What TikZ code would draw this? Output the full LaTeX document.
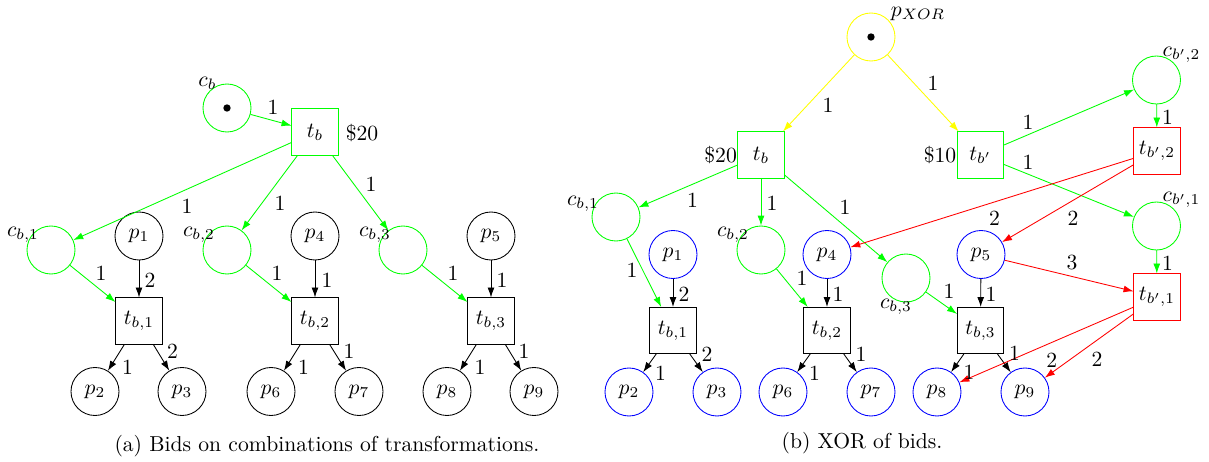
\documentclass[tikz,border=0pt]{standalone}
\usetikzlibrary{arrows.meta}
\definecolor{pg}{RGB}{0,255,0}
\definecolor{py}{RGB}{255,255,0}
\definecolor{pr}{RGB}{255,0,0}
\definecolor{pb}{RGB}{0,0,255}
\begin{document}
\begin{tikzpicture}[x=0.4625pt,y=-0.4625pt,
  place/.style={circle,draw,minimum size=22.2pt,inner sep=0pt},
  trans/.style={rectangle,draw,line width=0.45pt,minimum size=21.3pt,inner sep=0pt},
  token/.style={circle,fill=black,minimum size=3.4pt,inner sep=0pt},
  arc/.style={-{Latex[length=4.6pt,width=3.2pt]}},
  lbl/.style={inner sep=0pt}]
\useasboundingbox (0,0) rectangle (1209,462);
% ===== (a) =====
\node[place,draw=pg] (cb) at (227,108) {};
\node[token] (cbtok) at (cb) {};
\node[lbl] (cbl) at (207.5,83) {$c_b$};
\node[trans,draw=pg] (tb) at (315,132) {$t_b$};
\node[lbl] (tbprice) at (362,133) {\$20};
\node[place,draw=pg] (cb1) at (51,250) {};
\node[place,draw=pg] (cb2) at (227,250) {};
\node[place,draw=pg] (cb3) at (403,250) {};
\node[lbl] (cb1l) at (23,235) {$c_{b,1}$};
\node[lbl] (cb2l) at (199,235) {$c_{b,2}$};
\node[lbl] (cb3l) at (375,235) {$c_{b,3}$};
\node[place] (p1) at (139,236) {$p_1$};
\node[place] (p4) at (315,236) {$p_4$};
\node[place] (p5) at (491,236) {$p_5$};
\node[trans] (tb1) at (139,321) {$t_{b,1}$};
\node[trans] (tb2) at (315,321) {$t_{b,2}$};
\node[trans] (tb3) at (491,321) {$t_{b,3}$};
\node[place] (p2) at (95,391.5) {$p_2$};
\node[place] (p3) at (182,391.5) {$p_3$};
\node[place] (p6) at (271,391.5) {$p_6$};
\node[place] (p7) at (359,391.5) {$p_7$};
\node[place] (p8) at (447,391.5) {$p_8$};
\node[place] (p9) at (534,391.5) {$p_9$};
\foreach \a/\b in {cb/tb,tb/cb1,tb/cb2,tb/cb3,cb1/tb1,cb2/tb2,cb3/tb3}
  \draw[arc,pg] (\a) -- (\b);
\foreach \a/\b in {p1/tb1,p4/tb2,p5/tb3,tb1/p2,tb1/p3,tb2/p6,tb2/p7,tb3/p8,tb3/p9}
  \draw[arc] (\a) -- (\b);
\foreach \n/\x/\y/\t in {la1/273/107/1,la2/187/206/1,la3/280/203/1,la4/371/184/1,
  la5/101/273/1,la6/150/280/2,la7/127.5/367/1,la8/172.5/351/2,
  la9/277/273/1,la10/327/280/1,la11/303.6/367/1,la12/349/351/1,
  la13/453/273/1,la14/502/280/1,la15/480/367/1,la16/524/351/1}
  \node[lbl] (\n) at (\x,\y) {\t};
\node (capa) at (327,446) {(a) Bids on combinations of transformations.};
% ===== (b) =====
\node[place,draw=py] (px) at (871,37) {};
\node[token] (pxtok) at (px) {};
\node[lbl] (pxl) at (918,14) {$p_{XOR}$};
\node[trans,draw=pg] (rtb) at (761,155) {$t_b$};
\node[lbl] (rtbprice) at (720.6,155) {\$20};
\node[trans,draw=pg] (rtbp) at (980.5,155) {$t_{b'}$};
\node[lbl] (rtbpprice) at (940,155) {\$10};
\node[place,draw=pg] (cbp2) at (1156.5,80) {};
\node[lbl] (cbp2l) at (1181.5,55) {$c_{b',2}$};
\node[trans,draw=pr] (tbp2) at (1157,151) {$t_{b',2}$};
\node[place,draw=pg] (cbp1) at (1156.5,226) {};
\node[lbl] (cbp1l) at (1181.5,200) {$c_{b',1}$};
\node[trans,draw=pr] (tbp1) at (1157,297) {$t_{b',1}$};
\node[place,draw=pg] (rcb1) at (616,217) {};
\node[lbl] (rcb1l) at (583,204) {$c_{b,1}$};
\node[place,draw=pg] (rcb2) at (761,250) {};
\node[lbl] (rcb2l) at (733,235) {$c_{b,2}$};
\node[place,draw=pg] (rcb3) at (906,278) {};
\node[lbl] (rcb3l) at (896,307) {$c_{b,3}$};
\node[place,draw=pb] (rp1) at (673,254.5) {$p_1$};
\node[place,draw=pb] (rp4) at (827,254.5) {$p_4$};
\node[place,draw=pb] (rp5) at (981,254.5) {$p_5$};
\node[trans] (rtb1) at (673,330.5) {$t_{b,1}$};
\node[trans] (rtb2) at (827,330.5) {$t_{b,2}$};
\node[trans] (rtb3) at (980.5,330.5) {$t_{b,3}$};
\node[place,draw=pb] (rp2) at (629,392) {$p_2$};
\node[place,draw=pb] (rp3) at (717,392) {$p_3$};
\node[place,draw=pb] (rp6) at (783,392) {$p_6$};
\node[place,draw=pb] (rp7) at (871,392) {$p_7$};
\node[place,draw=pb] (rp8) at (937,392) {$p_8$};
\node[place,draw=pb] (rp9) at (1025,392) {$p_9$};
\foreach \a/\b in {px/rtb,px/rtbp}
  \draw[arc,py] (\a) -- (\b);
\foreach \a/\b in {rtbp/cbp2,rtbp/cbp1,cbp2/tbp2,cbp1/tbp1,rtb/rcb1,rtb/rcb2,rtb/rcb3,rcb1/rtb1,rcb2/rtb2,rcb3/rtb3}
  \draw[arc,pg] (\a) -- (\b);
\foreach \a/\b in {rp1/rtb1,rp4/rtb2,rp5/rtb3,rtb1/rp2,rtb1/rp3,rtb2/rp6,rtb2/rp7,rtb3/rp8,rtb3/rp9}
  \draw[arc] (\a) -- (\b);
\foreach \a/\b in {tbp2/rp4,tbp2/rp5,rp5/tbp1,tbp1/rp8,tbp1/rp9}
  \draw[arc,pr] (\a) -- (\b);
\foreach \n/\x/\y/\t in {lb1/828/105/1,lb2/933/83/1,lb3/1028/122/1,lb4/1028/162/1,
  lb5/1167.6/117/1,lb6/1167.6/263/1,lb7/692.5/200/1,lb8/772/203/1,lb9/845/207/1,
  lb10/632/270/1,lb11/684/294/2,lb12/802/278/1,lb13/838/294/1,lb14/949/291/1,lb15/991/294/1,
  lb16/660.6/373/1,lb17/707/354/2,lb18/814.5/373/1,lb19/861/354/1,lb20/969/372/1,lb21/1014.5/353/1,
  lb22/994.6/218/2,lb23/1073/218/2,lb24/1072/263/3,lb25/1051.7/360/2,lb26/1097/359/2}
  \node[lbl] (\n) at (\x,\y) {\t};
\node (capb) at (862,443) {(b) XOR of bids.};
\end{tikzpicture}
\end{document}
